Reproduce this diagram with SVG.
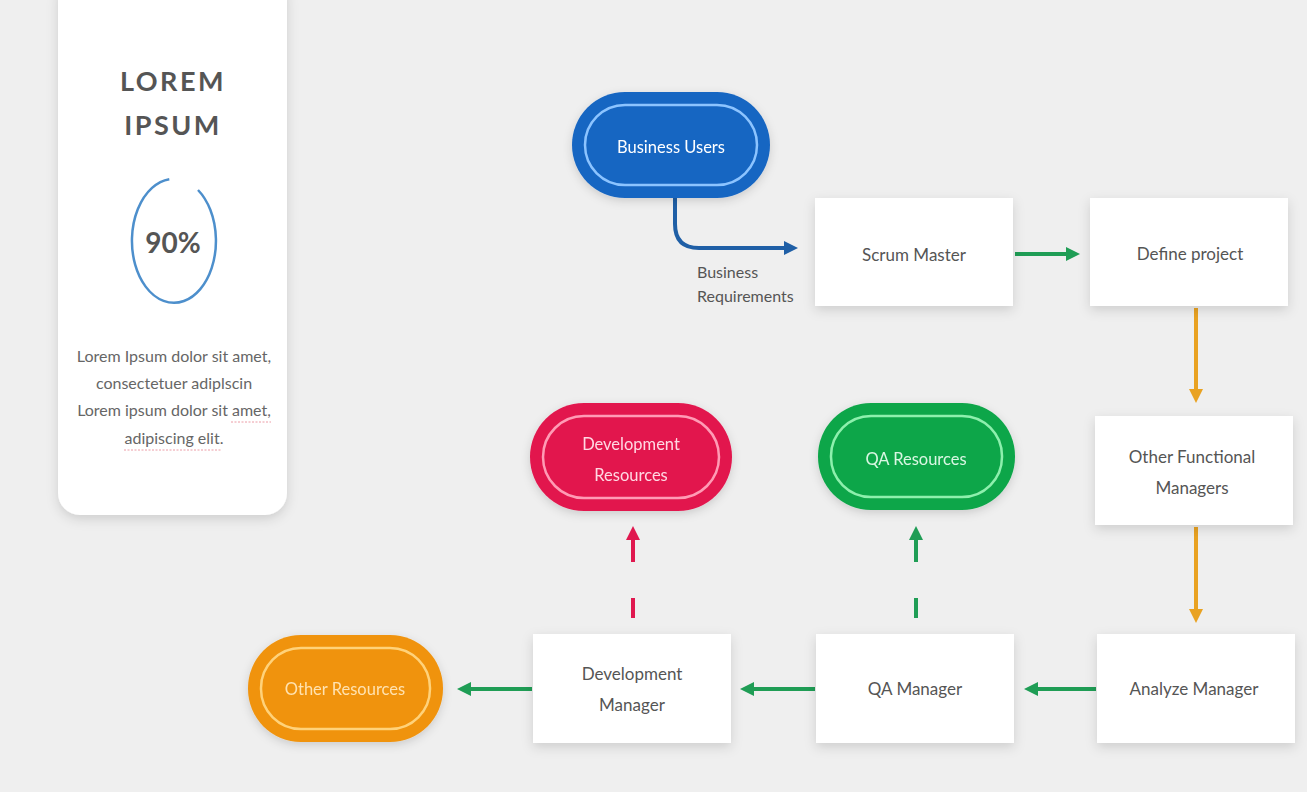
<svg xmlns="http://www.w3.org/2000/svg" width="1307" height="792" viewBox="0 0 1307 792">
  <style>
    .box { fill: #ffffff; filter: url(#shadow); }
    .lbl { font-family: Lato, "Open Sans", sans-serif; font-size: 17px; fill: #555555; text-anchor: middle; }
    .plbl { font-family: Lato, "Open Sans", sans-serif; font-size: 16.5px; text-anchor: middle; }
    .flow-g { stroke: #1f9d55; stroke-width: 4; fill: none; }
    .flow-o { stroke: #e9a222; stroke-width: 4; fill: none; }
    .body { font-family: Lato, "Open Sans", sans-serif; font-size: 16px; fill: #666666; text-anchor: middle; }
  </style>
  <defs>
    <filter id="shadow" x="-20%" y="-20%" width="140%" height="150%">
      <feDropShadow dx="0" dy="4" stdDeviation="6" flood-color="#000000" flood-opacity="0.14"/>
    </filter>
    <filter id="glow" x="-20%" y="-20%" width="140%" height="150%">
      <feDropShadow dx="0" dy="3" stdDeviation="5" flood-color="#000000" flood-opacity="0.15"/>
    </filter>
    <marker id="ah-g" markerUnits="userSpaceOnUse" markerWidth="16" markerHeight="16" viewBox="0 0 16 16" refX="4" refY="8" orient="auto">
      <path d="M0,1 L14,8 L0,15 z" fill="#1f9d55"/>
    </marker>
    <marker id="ah-o" markerUnits="userSpaceOnUse" markerWidth="16" markerHeight="16" viewBox="0 0 16 16" refX="4" refY="8" orient="auto">
      <path d="M0,1 L14,8 L0,15 z" fill="#e9a222"/>
    </marker>
    <marker id="ah-b" markerUnits="userSpaceOnUse" markerWidth="16" markerHeight="16" viewBox="0 0 16 16" refX="4" refY="8" orient="auto">
      <path d="M0,1 L14,8 L0,15 z" fill="#1f5fa6"/>
    </marker>
    <marker id="ah-r" markerUnits="userSpaceOnUse" markerWidth="16" markerHeight="16" viewBox="0 0 16 16" refX="4" refY="8" orient="auto">
      <path d="M0,1 L14,8 L0,15 z" fill="#e0184f"/>
    </marker>
  </defs>

  <rect width="1307" height="792" fill="#efefef"/>

  <!-- summary card -->
  <g id="card">
    <rect x="58" y="-24" width="229" height="539" rx="22" fill="#ffffff" filter="url(#shadow)"/>
    <text x="173" y="91" font-family="Lato, 'Open Sans', sans-serif" font-size="27" font-weight="bold" fill="#555555" text-anchor="middle" letter-spacing="2.5">LOREM</text>
    <text x="173" y="135" font-family="Lato, 'Open Sans', sans-serif" font-size="27" font-weight="bold" fill="#555555" text-anchor="middle" letter-spacing="2.5">IPSUM</text>
    <path d="M198,190 A42,62 0 1 1 169.3,179.2" fill="none" stroke="#4d8fcc" stroke-width="2.5"/>
    <text x="173" y="253" font-family="Lato, 'Open Sans', sans-serif" font-size="28" font-weight="bold" fill="#555555" text-anchor="middle">90%</text>
    <text class="body" x="174" y="362">Lorem Ipsum dolor sit amet,</text>
    <text class="body" x="174" y="389">consectetuer adiplscin</text>
    <text class="body" x="174" y="416">Lorem ipsum dolor sit amet,</text>
    <text class="body" x="174" y="444">adipiscing elit.</text>
    <path d="M231,422 H271 M124,450 H222" stroke="#e05a6a" stroke-width="1" stroke-dasharray="2 1.5" opacity="0.6"/>
  </g>

  <!-- connectors -->
  <g id="connectors">
    <path d="M675,198 V224 Q675,248 699,248 H788" fill="none" stroke="#1f5fa6" stroke-width="4" marker-end="url(#ah-b)"/>
    <line class="flow-g" x1="1015" y1="254" x2="1070" y2="254" marker-end="url(#ah-g)"/>
    <line class="flow-o" x1="1196" y1="308" x2="1196" y2="393" marker-end="url(#ah-o)"/>
    <line class="flow-o" x1="1196" y1="527" x2="1196" y2="613" marker-end="url(#ah-o)"/>
    <line class="flow-g" x1="1096" y1="689" x2="1034" y2="689" marker-end="url(#ah-g)"/>
    <line class="flow-g" x1="815" y1="689" x2="750" y2="689" marker-end="url(#ah-g)"/>
    <line class="flow-g" x1="532" y1="689" x2="467" y2="689" marker-end="url(#ah-g)"/>
    <path d="M633,618 V536" fill="none" stroke="#e0184f" stroke-width="4" stroke-dasharray="20 36 30" marker-end="url(#ah-r)"/>
    <path d="M916,618 V536" fill="none" stroke="#1f9d55" stroke-width="4" stroke-dasharray="20 36 30" marker-end="url(#ah-g)"/>
    <text x="697" y="278" font-family="Lato, 'Open Sans', sans-serif" font-size="16" fill="#555555">Business</text>
    <text x="697" y="302" font-family="Lato, 'Open Sans', sans-serif" font-size="16" fill="#555555">Requirements</text>
  </g>

  <!-- pills -->
  <g id="business-users" filter="url(#glow)">
    <rect x="572" y="92" width="198" height="106" rx="53" fill="#1766c2"/>
    <rect x="585" y="105" width="172" height="80" rx="40" fill="none" stroke="#8cc4ff" stroke-width="2.5"/>
    <text class="plbl" x="671" y="153" fill="#ffffff">Business Users</text>
  </g>
  <g id="development-resources" filter="url(#glow)">
    <rect x="530" y="403" width="202" height="108" rx="54" fill="#e2174e"/>
    <rect x="543" y="416" width="176" height="82" rx="41" fill="none" stroke="#ff9bb5" stroke-width="2.5"/>
    <text class="plbl" x="631" y="450" fill="#ffd8e2">Development</text>
    <text class="plbl" x="631" y="481" fill="#ffd8e2">Resources</text>
  </g>
  <g id="qa-resources" filter="url(#glow)">
    <rect x="818" y="403" width="197" height="107" rx="53" fill="#10a64a"/>
    <rect x="831" y="416" width="171" height="81" rx="40" fill="none" stroke="#8df0ad" stroke-width="2.5"/>
    <text class="plbl" x="916" y="465" fill="#d9f7e3">QA Resources</text>
  </g>
  <g id="other-resources" filter="url(#glow)">
    <rect x="248" y="635" width="195" height="107" rx="53" fill="#f0930c"/>
    <rect x="261" y="648" width="169" height="81" rx="40" fill="none" stroke="#ffd27a" stroke-width="2.5"/>
    <text class="plbl" x="345" y="695" fill="#ffe2b0">Other Resources</text>
  </g>

  <!-- boxes -->
  <g id="scrum-master">
    <rect class="box" x="815" y="198" width="198" height="108"/>
    <text class="lbl" x="914" y="261">Scrum Master</text>
  </g>
  <g id="define-project">
    <rect class="box" x="1090" y="198" width="198" height="108"/>
    <text class="lbl" x="1190" y="260">Define project</text>
  </g>
  <g id="other-functional-managers">
    <rect class="box" x="1095" y="416" width="198" height="109"/>
    <text class="lbl" x="1192" y="463">Other Functional</text>
    <text class="lbl" x="1192" y="494">Managers</text>
  </g>
  <g id="analyze-manager">
    <rect class="box" x="1097" y="634" width="198" height="109"/>
    <text class="lbl" x="1194" y="695">Analyze Manager</text>
  </g>
  <g id="qa-manager">
    <rect class="box" x="816" y="634" width="198" height="109"/>
    <text class="lbl" x="915" y="695">QA Manager</text>
  </g>
  <g id="development-manager">
    <rect class="box" x="533" y="634" width="198" height="109"/>
    <text class="lbl" x="632" y="680">Development</text>
    <text class="lbl" x="632" y="711">Manager</text>
  </g>
</svg>
